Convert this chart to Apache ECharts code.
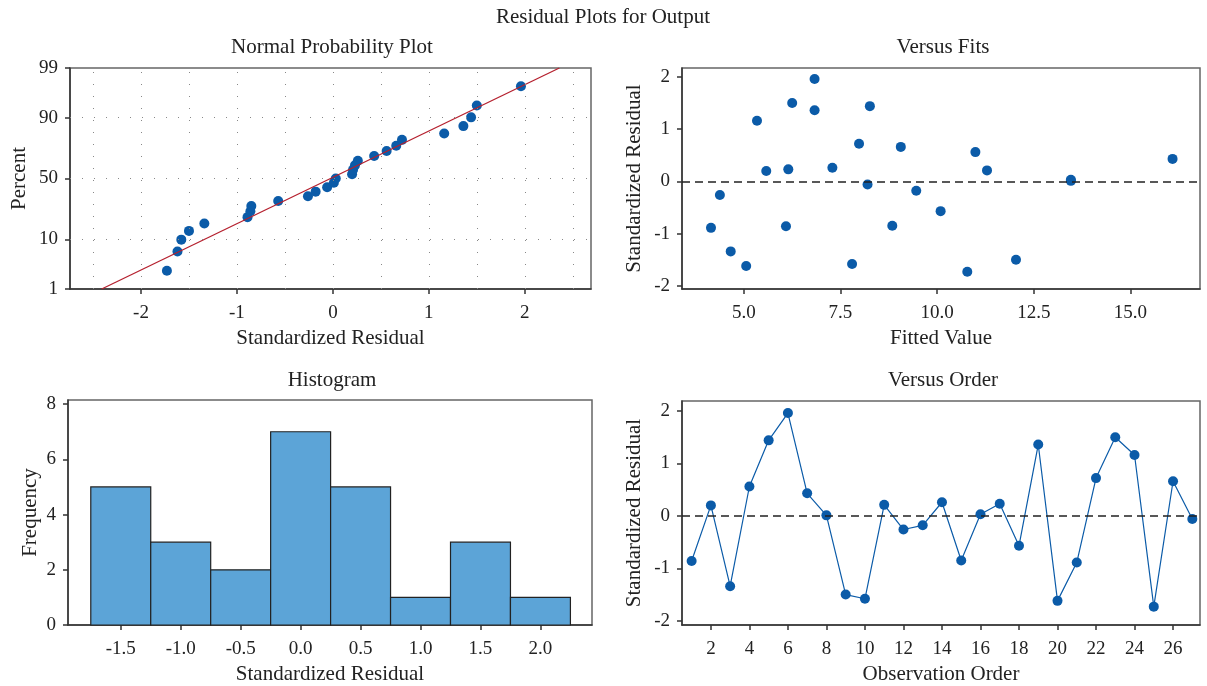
<!DOCTYPE html>
<html>
<head>
<meta charset="utf-8">
<title>Residual Plots for Output</title>
<script src="https://cdn.jsdelivr.net/npm/echarts@6/dist/echarts.min.js"></script>
<style>
	html, body { margin: 0; padding: 0; background: #fff; }
	#main { width: 1207px; height: 686px; }
</style>
</head>
<body>
<div id="main"></div>
<script>
// ---------------- data ----------------
var observation = [1, 2, 3, 4, 5, 6, 7, 8, 9, 10, 11, 12, 13, 14, 15, 16, 17, 18, 19, 20, 21, 22, 23, 24, 25, 26, 27];
var stdResidual = [-0.86, 0.20, -1.34, 0.56, 1.44, 1.96, 0.43, 0.01, -1.50, -1.58, 0.21, -0.26, -0.18, 0.26,
	-0.85, 0.03, 0.23, -0.57, 1.36, -1.62, -0.89, 0.72, 1.50, 1.16, -1.73, 0.66, -0.06];
var fittedValue = [6.09, 5.58, 4.66, 10.99, 8.26, 6.83, 16.09, 13.46, 12.04, 7.80, 11.29, 4.38, 9.46, 7.29,
	8.84, 13.46, 6.15, 10.09, 6.83, 5.06, 4.15, 7.98, 6.25, 5.34, 10.78, 9.06, 8.20];
// percent of each sorted residual on the normal probability plot
var probPercent = [2.6, 6.2, 9.9, 13.5, 17.2, 20.8, 24.5, 28.1, 31.8, 35.4, 39.1, 42.7, 46.4, 50.0,
	53.6, 57.3, 60.9, 64.6, 68.2, 71.9, 75.5, 79.2, 82.8, 86.5, 90.1, 93.8, 97.4];
// ends of the fitted red line
var fitLineResidual = [-2.41, 2.36];
var fitLinePercent = [1, 99];
// histogram
var binCenter = [-1.5, -1.0, -0.5, 0.0, 0.5, 1.0, 1.5, 2.0];
var binCount = [5, 3, 2, 7, 5, 1, 3, 1];
var binWidth = 0.5;
// tick labels
var percentTicks = [1, 10, 50, 90, 99];
var percentGrid = [10, 50, 90];
var probXTicks = [-2, -1, 0, 1, 2];
var probXGrid = [-2.5, -2, -1.5, -1, -0.5, 0, 0.5, 1, 1.5, 2, 2.5];
var fitsTicks = [5, 7.5, 10, 12.5, 15];
var orderTicks = [2, 4, 6, 8, 10, 12, 14, 16, 18, 20, 22, 24, 26];
var residTicks = [-2, -1, 0, 1, 2];
var histXTicks = [-1.5, -1.0, -0.5, 0.0, 0.5, 1.0, 1.5, 2.0];
var histYTicks = [0, 2, 4, 6, 8];

// inverse normal cdf, used as the scale of the probability axis
function probit(p) {
	var a = [-3.969683028665376e+01, 2.209460984245205e+02, -2.759285104469687e+02, 1.383577518672690e+02, -3.066479806614716e+01, 2.506628277459239e+00];
	var b = [-5.447609879822406e+01, 1.615858368580409e+02, -1.556989798598866e+02, 6.680131188771972e+01, -1.328068155288572e+01];
	var c = [-7.784894002430293e-03, -3.223964580411365e-01, -2.400758277161838e+00, -2.549732539343734e+00, 4.374664141464968e+00, 2.938163982698783e+00];
	var d = [7.784695709041462e-03, 3.224671290700398e-01, 2.445134137142996e+00, 3.754408661907416e+00];
	var pl = 0.02425, q, r;
	if (p < pl) {
		q = Math.sqrt(-2 * Math.log(p));
		return (((((c[0] * q + c[1]) * q + c[2]) * q + c[3]) * q + c[4]) * q + c[5]) / ((((d[0] * q + d[1]) * q + d[2]) * q + d[3]) * q + 1);
	}
	if (p > 1 - pl) {
		q = Math.sqrt(-2 * Math.log(1 - p));
		return -(((((c[0] * q + c[1]) * q + c[2]) * q + c[3]) * q + c[4]) * q + c[5]) / ((((d[0] * q + d[1]) * q + d[2]) * q + d[3]) * q + 1);
	}
	q = p - 0.5; r = q * q;
	return (((((a[0] * r + a[1]) * r + a[2]) * r + a[3]) * r + a[4]) * r + a[5]) * q / (((((b[0] * r + b[1]) * r + b[2]) * r + b[3]) * r + b[4]) * r + 1);
}

var FONT = '"Liberation Serif", "DejaVu Serif", serif';
var DOT = '#0B5BA8';
var percentZ = percentTicks.map(function (p) { return probit(p / 100); });

function axis(gi, min, max, ticks, fmt, name, gap, margin) {
	return {
		type: 'value', gridIndex: gi, min: min, max: max,
		name: name, nameLocation: 'middle', nameGap: gap,
		nameTextStyle: { fontFamily: FONT, fontSize: 21, color: '#222' },
		axisLine: { show: true, onZero: false, lineStyle: { color: '#333', width: 1.5 } },
		axisTick: { show: true, length: 5, customValues: ticks, lineStyle: { color: '#333', width: 1.5 } },
		axisLabel: { customValues: ticks, formatter: fmt, fontFamily: FONT, fontSize: 19, color: '#222', margin: margin },
		splitLine: { show: false }
	};
}
function fixed1(v) { return v.toFixed(1); }
function plain(v) { return String(Math.round(v)); }
function pctLabel(v) {
	for (var i = 0; i < percentZ.length; i++) {
		if (Math.abs(percentZ[i] - v) < 1e-6) return String(percentTicks[i]);
	}
	return '';
}

var sorted = stdResidual.slice().sort(function (a, b) { return a - b; });
var gridStyle = { show: true, borderColor: '#666', borderWidth: 1.5 };
var zeroLine = {
	silent: true, symbol: 'none', label: { show: false },
	lineStyle: { color: '#222', type: [8, 5], width: 1.5 },
	data: [{ yAxis: 0 }]
};
var titleFont = '21px ' + FONT;

const chart = echarts.init(document.getElementById('main'));
const option = {
	animation: false,
	backgroundColor: '#fff',
	graphic: [
		{ type: 'text', x: 603, y: 17, style: { text: 'Residual Plots for Output', font: titleFont, fill: '#222', align: 'center', verticalAlign: 'middle' } },
		{ type: 'text', x: 332, y: 47, style: { text: 'Normal Probability Plot', font: titleFont, fill: '#222', align: 'center', verticalAlign: 'middle' } },
		{ type: 'text', x: 943, y: 47, style: { text: 'Versus Fits', font: titleFont, fill: '#222', align: 'center', verticalAlign: 'middle' } },
		{ type: 'text', x: 332, y: 380, style: { text: 'Histogram', font: titleFont, fill: '#222', align: 'center', verticalAlign: 'middle' } },
		{ type: 'text', x: 943, y: 380, style: { text: 'Versus Order', font: titleFont, fill: '#222', align: 'center', verticalAlign: 'middle' } }
	],
	grid: [
		Object.assign({ left: 70, top: 68, width: 521, height: 221 }, gridStyle),
		Object.assign({ left: 682, top: 68, width: 518, height: 221 }, gridStyle),
		Object.assign({ left: 68, top: 400, width: 524, height: 226 }, gridStyle),
		Object.assign({ left: 682, top: 401, width: 518, height: 224 }, gridStyle)
	],
	xAxis: [
		axis(0, -2.74, 2.69, probXTicks, plain, 'Standardized Residual', 39, 15),
		axis(1, 3.4, 16.8, fitsTicks, fixed1, 'Fitted Value', 39, 15),
		axis(2, -1.94, 2.43, histXTicks, fixed1, 'Standardized Residual', 39, 15),
		axis(3, 0.5, 27.4, orderTicks, plain, 'Observation Order', 39, 15)
	],
	yAxis: [
		axis(0, percentZ[0], percentZ[4], percentZ, pctLabel, 'Percent', 40, 12),
		axis(1, -2.06, 2.17, residTicks, plain, 'Standardized Residual', 37, 12),
		axis(2, 0, 8.15, histYTicks, plain, 'Frequency', 27, 12),
		axis(3, -2.08, 2.19, residTicks, plain, 'Standardized Residual', 37, 12)
	],
	series: [
		{
			// dotted reference grid of the probability plot
			type: 'scatter', xAxisIndex: 0, yAxisIndex: 0, data: [], silent: true,
			markLine: {
				silent: true, symbol: 'none', label: { show: false },
				lineStyle: { color: '#888', type: [1, 11], width: 1 },
				data: probXGrid.map(function (x) { return { xAxis: x }; })
					.concat(percentGrid.map(function (p) { return { yAxis: probit(p / 100) }; }))
			}
		},
		{
			type: 'line', xAxisIndex: 0, yAxisIndex: 0, symbol: 'none', silent: true,
			lineStyle: { color: '#B5202E', width: 1.3 },
			data: fitLineResidual.map(function (x, i) { return [x, probit(fitLinePercent[i] / 100)]; })
		},
		{
			type: 'scatter', xAxisIndex: 0, yAxisIndex: 0, symbolSize: 10,
			itemStyle: { color: DOT, opacity: 1 },
			data: sorted.map(function (r, i) { return [r, probit(probPercent[i] / 100)]; })
		},
		{
			type: 'scatter', xAxisIndex: 1, yAxisIndex: 1, symbolSize: 10,
			itemStyle: { color: DOT, opacity: 1 },
			data: fittedValue.map(function (f, i) { return [f, stdResidual[i]]; }),
			markLine: zeroLine
		},
		{
			type: 'custom', xAxisIndex: 2, yAxisIndex: 2,
			data: binCenter.map(function (c, i) { return [c, binCount[i]]; }),
			encode: { x: 0, y: 1 },
			renderItem: function (params, api) {
				var c = api.value(0), n = api.value(1);
				var p0 = api.coord([c - binWidth / 2, n]);
				var p1 = api.coord([c + binWidth / 2, 0]);
				return {
					type: 'rect',
					shape: { x: p0[0], y: p0[1], width: p1[0] - p0[0], height: p1[1] - p0[1] },
					style: { fill: '#5CA4D7', stroke: '#222', lineWidth: 1.2 }
				};
			}
		},
		{
			type: 'line', xAxisIndex: 3, yAxisIndex: 3, symbol: 'circle', symbolSize: 10,
			itemStyle: { color: DOT },
			lineStyle: { color: DOT, width: 1.2 },
			data: observation.map(function (o, i) { return [o, stdResidual[i]]; }),
			markLine: zeroLine
		}
	]
};
chart.setOption(option);

window.onresize = function () {
	chart.resize();
};
</script>
</body>
</html>
